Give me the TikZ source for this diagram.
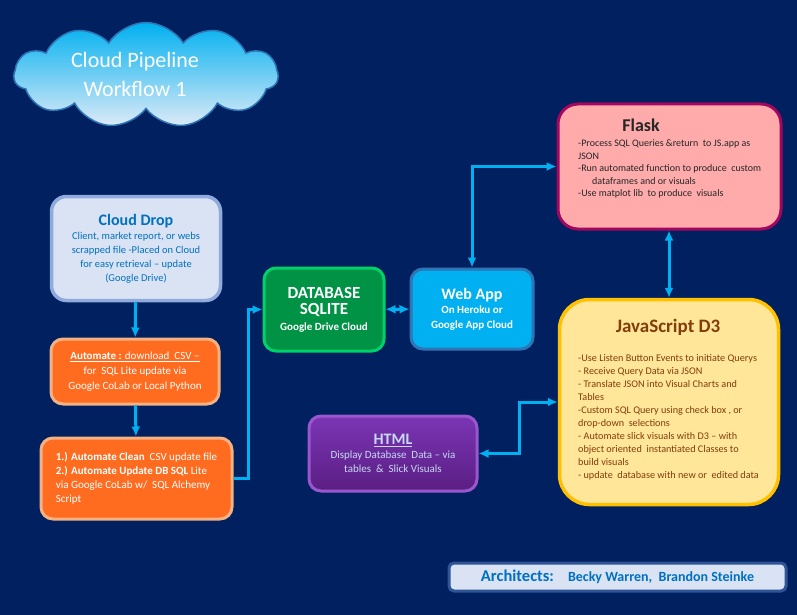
\documentclass[tikz,border=0pt]{standalone}
\usepackage{fontspec}
\setmainfont{Carlito}
\usetikzlibrary{shapes.symbols,arrows.meta}
\definecolor{002060}{HTML}{002060}
\definecolor{00B0F0}{HTML}{00B0F0}
\definecolor{2E75B6}{HTML}{2E75B6}
\definecolor{DEEBF7}{HTML}{DEEBF7}
\definecolor{DAE3F3}{HTML}{DAE3F3}
\definecolor{8FAADC}{HTML}{8FAADC}
\definecolor{0070C0}{HTML}{0070C0}
\definecolor{FF6B1F}{HTML}{FF6B1F}
\definecolor{F4B183}{HTML}{F4B183}
\definecolor{009245}{HTML}{009245}
\definecolor{00D26A}{HTML}{00D26A}
\definecolor{FFABAB}{HTML}{FFABAB}
\definecolor{A2065E}{HTML}{A2065E}
\definecolor{FFE699}{HTML}{FFE699}
\definecolor{FFC000}{HTML}{FFC000}
\definecolor{843C0C}{HTML}{843C0C}
\definecolor{7B35B5}{HTML}{7B35B5}
\definecolor{5A1E82}{HTML}{5A1E82}
\definecolor{9A57CD}{HTML}{9A57CD}
\definecolor{C5D9F1}{HTML}{C5D9F1}
\definecolor{2F5597}{HTML}{2F5597}
\newcommand{\fs}[2]{\fontsize{#1}{#2}\selectfont}
\tikzset{
  box/.style={rounded corners=12pt,line width=3pt,inner sep=0pt,align=center},
  link/.style={draw=00B0F0,line width=3pt},
}

\begin{document}
\begin{tikzpicture}[>={Latex[length=10pt,width=9pt]},x=1pt,y=-1pt]
    \fill[002060](0,0)rectangle(797,615);
    \useasboundingbox(0,0)rectangle(797,615);
    % title cloud
    \node[cloud,cloud puffs=11,cloud puff arc=115,cloud ignores aspect,minimum width=264pt,minimum height=105pt,draw=2E75B6,line width=1.5pt,top color=00B0F0,bottom color=DEEBF7](title)at(146,75){};
    \node[text=white,align=center,font=\fs{22}{29}](titletext)at(135,74){Cloud Pipeline\\Workflow 1};
    % left column
    \node[box,rounded corners=15pt,line width=3.5pt,draw=8FAADC,fill=DAE3F3,text=0070C0,minimum width=169pt,minimum height=104pt,font=\fs{10.5}{14}](drop)at(136,248.5){{\fs{16}{18}\bfseries Cloud Drop}\\Client, market report, or webs\\scrapped file -Placed on Cloud\\for easy retrieval -- update\\(Google Drive)};
    \node[box,draw=F4B183,fill=FF6B1F,text=white,minimum width=168pt,minimum height=65pt,font=\fs{11}{15}](csvget)at(135,371.5){\underline{\textbf{Automate :} download\ \ CSV --}\\for\ \ SQL Lite update via\\Google CoLab or Local Python};
    \node[box,align=left,draw=F4B183,fill=FF6B1F,text=white,minimum width=191pt,minimum height=81pt,font=\fs{11}{14}](csvclean)at(136.5,478.5){\textbf{1.) Automate Clean}\ \ CSV update file\\\textbf{2.) Automate Update DB SQL} Lite\\via Google CoLab w/\ \ SQL Alchemy\\Script};
    % database and web app
    \node[box,draw=00D26A,fill=009245,text=white,minimum width=120pt,minimum height=83pt,font=\fs{11}{16}\bfseries](db)at(324,309.5){{\fs{17}{19}DATABASE}\\{\fs{17}{19}SQLITE}\\Google\ Drive Cloud};
    \node[box,draw=2E75B6,fill=00B0F0,text=white,minimum width=122pt,minimum height=80pt,font=\fs{11}{14.5}\bfseries](webapp)at(472,309){{\fs{16}{18}Web App}\\On Heroku or\\Google App Cloud};
    % flask
    \node[box,rounded corners=20pt,draw=A2065E,fill=FFABAB,minimum width=223pt,minimum height=125pt](flask)at(669.5,166.5){};
    \node[font=\fs{18}{20}\bfseries,text=black!85](flasktitle)at(641,125){Flask};
    \node[anchor=north west,align=left,inner sep=0pt,font=\fs{10}{12.5},text=black!85](flasktext)at(578,139.5){-Process SQL Queries \&return\ \ to JS.app as\\JSON\\-Run automated function to produce\ \ custom\\\hspace*{14pt}dataframes and or visuals\\-Use matplot lib\ \ to produce\ \ visuals};
    % javascript
    \node[box,rounded corners=30pt,line width=3.5pt,draw=FFC000,fill=FFE699,minimum width=219pt,minimum height=205pt](jsd3)at(669,402){};
    \node[font=\fs{19}{22}\bfseries,text=843C0C](jstitle)at(668,327){JavaScript D3};
    \node[anchor=north west,align=left,inner sep=0pt,font=\fs{10.2}{13},text=843C0C](jstext)at(578,354){-Use Listen Button Events to initiate Querys\\- Receive Query Data via JSON\\- Translate JSON into Visual Charts and\\Tables\\-Custom SQL Query using check box\ , or\\drop-down\ \ selections\\- Automate slick visuals with D3 -- with\\object oriented\ \ instantiated Classes to\\build visuals\\- update\ \ database with new or\ \ edited data};
    % html
    \node[box,draw=9A57CD,top color=7B35B5,bottom color=5A1E82,text=C5D9F1,minimum width=168pt,minimum height=75pt,font=\fs{11}{14}](html)at(393,453.5){{\fs{16}{18}\bfseries\underline{HTML}}\\Display Database\ \ Data -- via\\tables\ \ \&\ \ Slick Visuals};
    % architects
    \node[box,rounded corners=5pt,draw=2F5597,fill=DAE3F3,text=0070C0,minimum width=337pt,minimum height=28pt,font=\bfseries](credits)at(617.5,577){{\fs{16.5}{18}Architects:}\hspace{14pt}{\fs{14}{16}Becky Warren,\ \ Brandon Steinke}};
    % connectors
    \draw[link,->](drop)--(csvget);
    \draw[link,->](csvget)--(csvclean);
    \draw[link,->](csvclean.east)--++(15,0)|-(db.west);
    \draw[link,<->](db)--(webapp);
    \draw[link,<->](webapp.north)|-(flask.west);
    \draw[link,<->](jsd3.north)--(jsd3.north|-flask.south);
    \draw[link,<->](jsd3.west)--++(-38,0)|-(html.east);
\end{tikzpicture}
\end{document}
